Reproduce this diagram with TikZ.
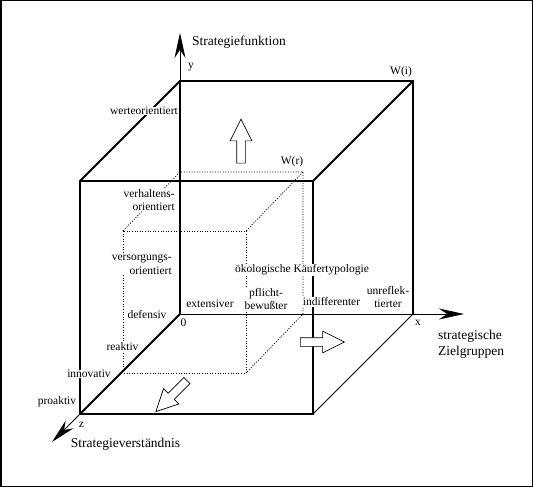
\documentclass[tikz,border=0pt]{standalone}
\usepackage{fontspec}
\setmainfont{Liberation Serif}
\usetikzlibrary{arrows.meta,shapes.arrows}
\tikzset{
  edge/.style={line width=2.6pt},
  diag/.style={line width=2pt},
  axisline/.style={line width=0.8pt},
  hidden/.style={line width=0.8pt,dash pattern=on 1pt off 1.6pt},
  axtip/.style={-{Stealth[length=25pt,width=11pt]}},
  lbl/.style={fill=white,inner sep=0.6pt,font=\fontsize{11.5}{13.5}\selectfont},
  ttl/.style={inner sep=0pt,font=\fontsize{13.5}{15.5}\selectfont,align=left},
  blockarrow/.style={single arrow,draw,fill=white,line width=0.7pt,minimum height=44pt,
    single arrow head extend=6.5pt,single arrow tip angle=53,inner xsep=0pt,inner ysep=4pt}
}
\begin{document}
\begin{tikzpicture}[x=1pt,y=-1pt]
\useasboundingbox (0,0) rectangle (533,487);
\draw[line width=1.5pt] (0.75,0.75) rectangle (532.25,486.25);
% corners of the cube
\coordinate (O) at (180,314);
\coordinate (btl) at (180,81);
\coordinate (btr) at (413,81);
\coordinate (bbr) at (413,314);
\coordinate (ftl) at (80,181);
\coordinate (ftr) at (313,181);
\coordinate (fbr) at (313,414);
\coordinate (fbl) at (80,414);
% corners of W(r)
\coordinate (rbt) at (180,172);
\coordinate (rbtr) at (303,172);
\coordinate (rbbr) at (303,314);
\coordinate (rftl) at (123,231);
\coordinate (rftr) at (246,231);
\coordinate (rfbr) at (246,373);
\coordinate (rfbl) at (123,373);
% axis tips
\coordinate (xtip) at (464,314);
\coordinate (ytip) at (180,33);
\coordinate (ztip) at (52,442);

\draw[hidden] (rftl) -- (rbt) -- (rbtr) -- (rbbr) -- (rfbr);
\draw[hidden] (rbtr) -- (rftr);
\draw[hidden] (rftl) rectangle (rfbr);

\draw[axisline,axtip] (O) -- (xtip);
\draw[axisline,axtip] (btl) -- (ytip);
\draw[axisline,axtip] (fbl) -- (ztip);
\draw[axisline] (bbr) -- (fbr);
\draw[diag] (btl) -- (ftl);
\draw[diag] (btr) -- (ftr);
\draw[diag] (O) -- (fbl);
\draw[edge] (O) -- (btl) -- (btr) -- (bbr);
\draw[edge] (ftl) rectangle (fbr);

\node[blockarrow,rotate=90] (upA) at (241,145.5) {};
\node[blockarrow] (rightA) at (318,342) {};
\node[blockarrow,rotate=225] (downA) at (174.5,393) {};

\node[lbl] (wert) at (144,111) {werteorientiert};
\node[lbl,align=right,anchor=east] (verh) at (175.5,200) {verhaltens-\\orientiert};
\node[lbl,align=right,anchor=east] (vers) at (172.5,264.5) {versorgungs-\\orientiert};
\node[lbl] (oeko) at (302,270) {ökologische Käufertypologie};
\node[lbl,align=center] (pfl) at (266,299) {pflicht-\\bewußter};
\node[lbl] (ext) at (210,304) {extensiver};
\node[lbl] (ind) at (331.5,302) {indifferenter};
\node[lbl,align=center] (unr) at (388,297) {unreflek-\\tierter};
\node[lbl] (def) at (147,315) {defensiv};
\node[lbl] (rea) at (122.5,347) {reaktiv};
\node[lbl] (inno) at (89,374) {innovativ};
\node[lbl] (pro) at (57,402) {proaktiv};
\node[lbl] (wi) at (401,72) {W(i)};
\node[lbl] (wr) at (292,162) {W(r)};
\node[lbl] (null) at (183.5,323) {0};
\node[lbl] (xl) at (418,323) {x};
\node[lbl] (yl) at (191,67) {y};
\node[lbl] (zl) at (81.5,425) {z};

\node[ttl,anchor=west] (sf) at (192,42) {Strategiefunktion};
\node[ttl,anchor=west] (sz) at (438,344.5) {strategische\\Zielgruppen};
\node[ttl] (sv) at (125.5,444) {Strategieverständnis};
\end{tikzpicture}
\end{document}
